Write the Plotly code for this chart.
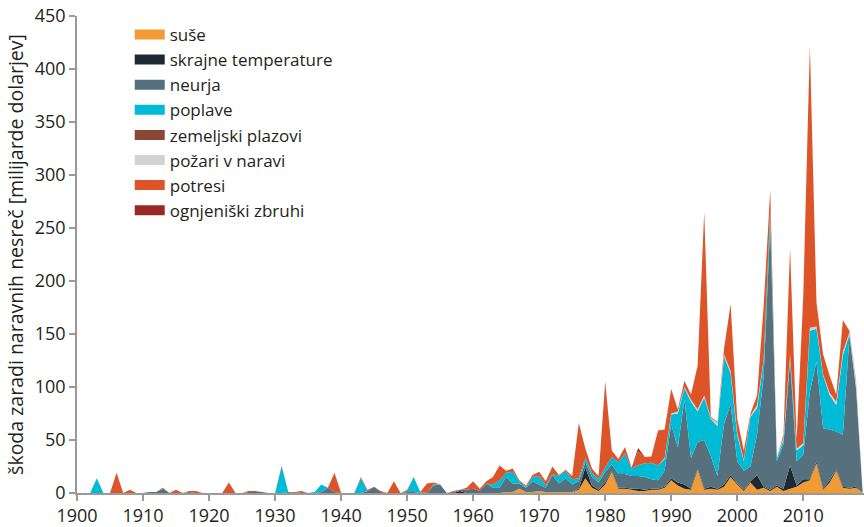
import plotly.graph_objects as go

years = list(range(1900, 2020))

# Damage per disaster type (billion USD), one row per decade 1900s..2010s
suse = [
    0, 0, 0, 0, 0, 0, 0, 0, 0, 0,
    0, 0, 0, 0, 0, 0, 0, 0, 0, 0,
    0, 0, 0, 0, 0, 0, 0, 0, 0, 0,
    0, 0, 0, 0, 0, 0, 0, 0, 0, 0,
    0, 0, 0, 0, 0, 0, 0, 0, 0, 0,
    0, 0, 0, 0, 0, 0, 0, 0, 0, 0,
    0, 0, 0, 0, 0, 1, 1, 4, 1, 1,
    2, 1, 1, 1, 1, 1, 3, 14, 5, 2,
    8, 20, 4, 4, 3, 2, 2, 3, 3, 5,
    12, 7, 4, 3, 22, 3, 4, 3, 6, 15,
    8, 2, 10, 3, 5, 2, 6, 2, 4, 6,
    10, 12, 28, 3, 10, 21, 5, 4, 5, 0,
]
skrajne_temperature = [
    0, 0, 0, 0, 0, 0, 0, 0, 0, 0,
    0, 0, 0, 0, 0, 0, 0, 0, 0, 0,
    0, 0, 0, 0, 0, 0, 0, 0, 0, 0,
    0, 0, 0, 0, 0, 0, 0, 0, 0, 0,
    0, 0, 0, 0, 0, 0, 0, 0, 0, 0,
    0, 0, 0, 0, 0, 0, 0, 0, 2, 0,
    0, 0, 0, 0, 0, 0, 0, 0, 0, 0,
    0, 0, 0, 0, 0, 0, 1, 10, 2, 1,
    2, 1, 1, 1, 1, 2, 1, 1, 1, 1,
    2, 3, 4, 1, 1, 1, 2, 1, 2, 2,
    1, 1, 1, 14, 1, 1, 1, 2, 22, 1,
    3, 1, 2, 1, 2, 1, 1, 1, 1, 0,
]
neurja = [
    0, 0, 0, 0, 0, 0, 0, 0, 0, 0,
    0, 1, 1, 4, 0, 0, 0, 1, 0, 0,
    0, 0, 0, 0, 0, 0, 1, 1, 1, 0,
    0, 0, 1, 0, 1, 0, 0, 1, 5, 1,
    0, 0, 0, 0, 2, 6, 1, 0, 0, 0,
    1, 1, 0, 0, 7, 8, 0, 1, 1, 3,
    4, 2, 9, 5, 5, 14, 8, 5, 4, 10,
    6, 4, 16, 8, 13, 7, 7, 5, 8, 7,
    10, 6, 13, 13, 12, 12, 12, 9, 8, 15,
    51, 33, 80, 29, 25, 46, 29, 12, 57, 67,
    21, 18, 14, 38, 104, 250, 23, 42, 98, 23,
    23, 82, 94, 57, 48, 36, 49, 143, 92, 0,
]
poplave = [
    0, 0, 0, 14, 0, 0, 0, 0, 0, 0,
    0, 0, 0, 0, 0, 0, 0, 0, 0, 0,
    0, 0, 0, 0, 0, 0, 0, 0, 0, 0,
    0, 25, 0, 0, 0, 0, 1, 7, 0, 0,
    0, 0, 0, 14, 0, 0, 0, 0, 0, 0,
    1, 14, 1, 0, 1, 0, 0, 0, 0, 0,
    0, 0, 0, 3, 7, 4, 11, 2, 1, 4,
    8, 2, 1, 7, 7, 5, 3, 4, 4, 3,
    4, 7, 11, 19, 7, 10, 13, 15, 14, 11,
    9, 32, 11, 53, 29, 40, 35, 47, 63, 29,
    25, 9, 47, 25, 15, 14, 3, 4, 4, 10,
    9, 58, 31, 50, 32, 25, 75, 2, 3, 0,
]
zemeljski_plazovi = [
    0, 0, 0, 0, 0, 0, 0, 0, 0, 0,
    0, 0, 0, 0, 0, 0, 0, 0, 0, 0,
    0, 0, 0, 0, 0, 0, 0, 0, 0, 0,
    0, 0, 0, 0, 0, 0, 0, 0, 0, 0,
    0, 0, 0, 0, 0, 0, 0, 0, 0, 0,
    0, 0, 0, 0, 0, 0, 0, 0, 0, 0,
    0, 0, 0, 0, 0, 0, 0, 0, 0, 0,
    0, 0, 0, 0, 0, 0, 0, 0, 0, 0,
    0, 0, 0, 0.5, 0, 0.5, 0, 0.5, 0, 0,
    0, 0, 0, 0, 0, 0, 0, 0, 1, 0,
    0, 0, 0, 0, 0, 0, 0, 0, 0, 0,
    0, 0, 0, 0, 0.5, 0, 0, 0, 0, 0,
]
pozari = [
    0, 0, 0, 0, 0, 0, 0, 0, 0, 0,
    0, 0, 0, 0, 0, 0, 0, 0, 0, 0,
    0, 0, 0, 0, 0, 0, 0, 0, 0, 0,
    0, 0, 0, 0, 0, 0, 0, 0, 0, 0,
    0, 0, 0, 0, 0, 0, 0, 0, 0, 0,
    0, 0, 0, 0, 0, 0, 0, 0, 0, 0,
    0, 0, 0, 0, 0, 0, 0, 0, 0, 0,
    0, 0, 0, 0, 0, 0, 0, 0, 0, 0,
    0, 0, 0, 0, 0, 0, 0, 0, 0, 1,
    1, 2, 1, 2, 2, 2, 1, 3, 2, 2,
    2, 1, 1, 3, 1, 1, 0, 2, 2, 2,
    2, 3, 2, 1, 2, 3, 3, 2, 3, 0,
]
potresi = [
    0, 0, 0, 0, 0, 0, 19, 0, 3, 0,
    0, 0, 0, 1, 0, 3, 0, 1, 2, 0,
    0, 0, 0, 10, 0, 0, 1, 1, 0, 0,
    0, 1, 0, 1, 1, 0, 0, 0, 0, 18,
    0, 0, 0, 1, 1, 0, 1, 0, 11, 0,
    1, 0, 0, 9, 2, 0, 0, 1, 0, 2,
    7, 2, 2, 7, 14, 2, 3, 1, 1, 2,
    4, 4, 7, 1, 1, 3, 52, 9, 4, 3,
    80, 6, 3, 6, 1, 13, 6, 6, 33, 27,
    23, 1, 6, 5, 41, 173, 1, 1, 5, 63,
    13, 9, 2, 9, 50, 18, 0, 3, 101, 8,
    138, 266, 23, 19, 16, 7, 30, 1, 2, 0,
]
ognjeniski_zbruhi = [
    0, 0, 0, 0, 0, 0, 0, 0, 0, 0,
    0, 0, 0, 0, 0, 0, 0, 0, 0, 0,
    0, 0, 0, 0, 0, 0, 0, 0, 0, 0,
    0, 0, 0, 0, 0, 0, 0, 0, 0, 0,
    0, 0, 0, 0, 0, 0, 0, 0, 0, 0,
    0, 0, 0, 0, 0, 0, 0, 0, 0, 0,
    0, 0, 0, 0, 0, 0, 0, 0, 0, 0,
    0, 0, 0, 0, 0, 0, 0, 0, 0, 0,
    1, 0, 0, 0, 0, 3, 0, 0, 0, 0,
    0, 1, 0, 0, 0, 0, 0, 0, 0, 0,
    0, 0, 0, 0, 0, 0, 0, 0, 0, 0,
    1, 0, 0, 0, 0, 0, 0, 0, 0, 0,
]

series_names = ["suše", "skrajne temperature", "neurja", "poplave",
                "zemeljski plazovi", "požari v naravi", "potresi", "ognjeniški zbruhi"]
series_values = [suse, skrajne_temperature, neurja, poplave,
                 zemeljski_plazovi, pozari, potresi, ognjeniski_zbruhi]
series_colors = ["#F29B35", "#1E2A31", "#56707E", "#00BBD5",
                 "#8A4736", "#D2D2D2", "#DD5429", "#9A2824"]

x_ticks = list(range(1900, 2020, 10))
y_ticks = list(range(0, 451, 50))

FONT = "Open Sans"
fig = go.Figure()
for name, vals, col in zip(series_names, series_values, series_colors):
    fig.add_trace(go.Scatter(
        x=years, y=vals, name=name, mode="lines",
        stackgroup="one", line=dict(width=0, color=col),
        fillcolor=col, showlegend=False, hoverinfo="skip",
    ))
# legend entries (thick line icons look like the reference's colour blocks)
for name, col in zip(series_names, series_colors):
    fig.add_trace(go.Scatter(
        x=[None], y=[None], name=name, mode="lines",
        line=dict(width=10, color=col), showlegend=True,
    ))

fig.update_layout(
    width=864, height=527,
    margin=dict(l=77, r=0, t=16, b=32),
    paper_bgcolor="white", plot_bgcolor="white",
    font=dict(family=FONT, size=18, color="#231F20"),
    showlegend=True,
    legend=dict(x=0.067, y=0.998, xanchor="left", yanchor="top",
                font=dict(family=FONT, size=17, color="#231F20"),
                bgcolor="rgba(0,0,0,0)", traceorder="normal",
                itemwidth=30),
    xaxis=dict(range=[1900, 2019.2], tickmode="array", tickvals=x_ticks,
               showgrid=False, zeroline=False, showline=True,
               linecolor="#9A9A9A", linewidth=1.5, ticks="outside",
               tickcolor="#9A9A9A", ticklen=6, tickwidth=1.5,
               tickfont=dict(size=18)),
    yaxis=dict(range=[0, 450], tickmode="array", tickvals=y_ticks,
               showgrid=False, zeroline=False, showline=True,
               linecolor="#9A9A9A", linewidth=1.5, ticks="outside",
               tickcolor="#9A9A9A", ticklen=6, tickwidth=1.5,
               tickfont=dict(size=18),
               title=dict(text="škoda zaradi naravnih nesreč [milijarde dolarjev]",
                          font=dict(size=19.5), standoff=6)),
)

fig.write_html("out.html", config={"displayModeBar": False},
               post_script="document.body.style.margin='0';document.body.style.overflow='hidden';")
